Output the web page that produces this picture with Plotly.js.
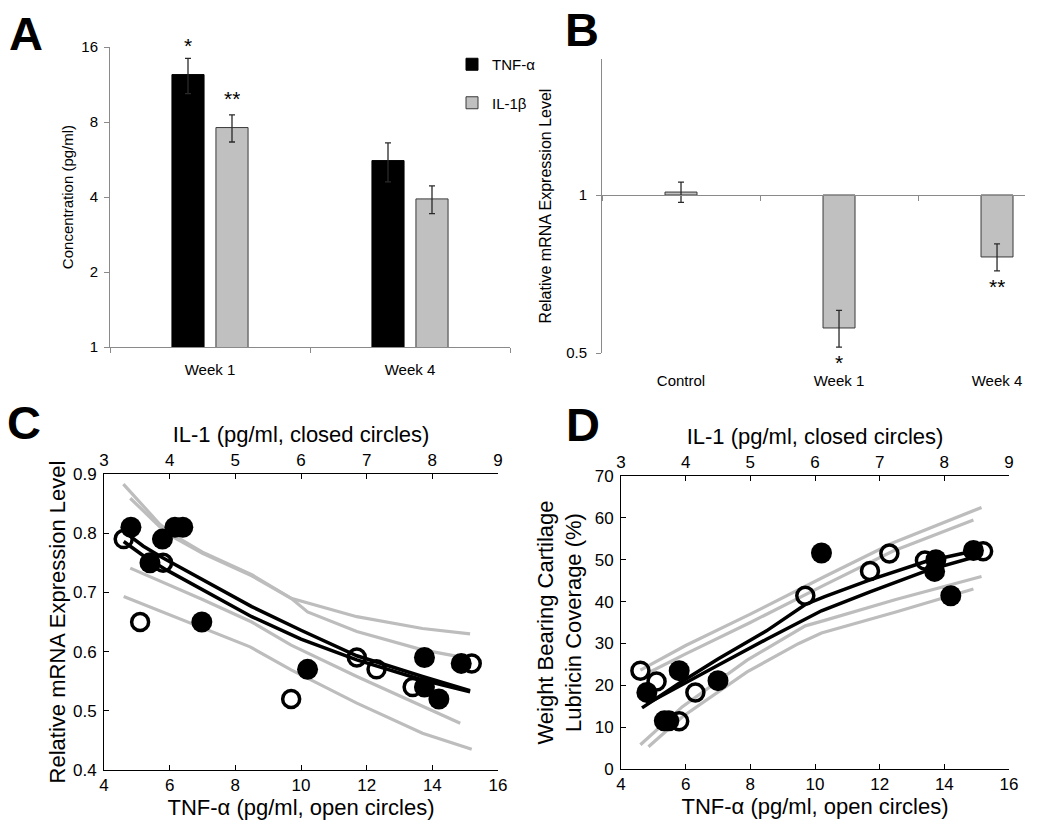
<!DOCTYPE html>
<html><head><meta charset="utf-8">
<script src="https://cdn.plot.ly/plotly-3.0.1.min.js"></script>
<style>html,body{margin:0;padding:0;background:#fff}#chart{width:1050px;height:833px}</style>
</head><body><div id="chart"></div>
<script>
// ---------- Panel A: cytokine concentrations ----------
const weeksA = ['Week 1', 'Week 4'];
const tnfConc = [12.4, 5.6];
const tnfErr = [2.0, 1.0];
const il1Conc = [7.6, 3.93];
const il1Err = [0.95, 0.5];
const concTicks = [1, 2, 4, 8, 16];
const starsTnf = ['*', ''];
const starsIl1 = ['**', ''];

// ---------- Panel B: relative mRNA expression ----------
const groupsB = ['Control', 'Week 1', 'Week 4'];
const mrnaLevel = [1.013, 0.558, 0.762];
const mrnaErr = [0.045, 0.045, 0.045];
const mrnaTicks = [0.5, 1];
const starsB = ['', '*', '**'];

// ---------- Panel C: mRNA vs cytokines ----------
const cOpenTnf = [4.6, 5.1, 5.8, 9.7, 11.7, 12.3, 13.4, 15.2];
const cOpenY = [0.79, 0.65, 0.75, 0.52, 0.59, 0.57, 0.54, 0.58];
const cClosedIl = [3.41, 3.70, 3.89, 4.08, 4.20, 4.49, 6.10, 7.88, 7.88, 8.10, 8.44];
const cClosedY = [0.81, 0.75, 0.79, 0.81, 0.81, 0.65, 0.57, 0.59, 0.54, 0.52, 0.58];
const cFitAx = [4.6, 5.2, 5.8, 7.0, 8.5, 10.0, 11.7, 13.7, 15.15];
const cFitAy = [0.803, 0.778, 0.758, 0.722, 0.676, 0.636, 0.593, 0.558, 0.534];
const cFitBx = [4.6, 5.2, 5.9, 7.0, 8.5, 10.0, 11.7, 13.7, 15.15];
const cFitBy = [0.786, 0.762, 0.738, 0.705, 0.659, 0.621, 0.586, 0.552, 0.532];
const cBand1x = [4.59, 5.2, 5.7, 6.3, 7.0, 8.5, 9.7, 11.7, 13.7, 15.15];
const cBand1y = [0.883, 0.845, 0.815, 0.791, 0.768, 0.730, 0.690, 0.659, 0.639, 0.630];
const cBand2x = [4.8, 5.9, 7.0, 8.5, 9.7, 10.2, 11.7, 13.7, 14.85];
const cBand2y = [0.859, 0.800, 0.766, 0.728, 0.690, 0.667, 0.634, 0.603, 0.591];
const cBand3x = [4.8, 6.0, 7.0, 8.5, 9.7, 11.7, 13.7, 14.85];
const cBand3y = [0.741, 0.712, 0.688, 0.650, 0.611, 0.558, 0.507, 0.479];
const cBand4x = [4.6, 6.9, 8.45, 9.7, 11.7, 13.7, 15.2];
const cBand4y = [0.693, 0.642, 0.608, 0.569, 0.513, 0.462, 0.435];

// ---------- Panel D: lubricin coverage vs cytokines ----------
const dOpenTnf = [4.6, 5.1, 5.8, 6.3, 9.7, 11.7, 12.3, 13.4, 15.2];
const dOpenY = [23.5, 20.9, 11.4, 18.3, 41.4, 47.3, 51.5, 49.8, 52.0];
const dClosedIl = [3.40, 3.67, 3.74, 3.90, 4.50, 6.10, 7.87, 7.85, 8.10, 8.45];
const dClosedY = [18.3, 11.5, 11.5, 23.5, 21.1, 51.6, 50.0, 47.2, 41.4, 52.2];
const dFitAx = [4.65, 5.8, 7.0, 8.5, 9.7, 10.3, 11.7, 13.4, 15.15];
const dFitAy = [14.6, 20.5, 26.3, 33.0, 39.3, 41.2, 45.2, 49.5, 52.5];
const dFitBx = [4.8, 6.0, 7.0, 8.5, 10.2, 11.7, 13.5, 15.1];
const dFitBy = [15.6, 20.5, 24.8, 31.0, 37.8, 42.3, 47.5, 51.0];
const dBand1x = [4.6, 6.0, 8.0, 10.3, 12.4, 15.15];
const dBand1y = [23.6, 29.5, 37.0, 46.0, 54.0, 62.5];
const dBand2x = [4.85, 6.0, 8.0, 10.3, 12.4, 14.9];
const dBand2y = [23.0, 27.5, 35.0, 44.0, 52.0, 59.5];
const dBand3x = [4.6, 5.9, 7.9, 9.7, 10.3, 12.5, 15.15];
const dBand3y = [5.8, 14.9, 26.0, 34.2, 35.5, 40.5, 46.0];
const dBand4x = [4.85, 5.9, 7.9, 9.5, 10.2, 12.5, 14.9];
const dBand4y = [5.3, 12.5, 23.2, 30.0, 32.5, 37.5, 43.0];

// ---------- helpers / styles ----------
const W = 1050, H = 833;
const FONT = 'Liberation Sans, Arial, Helvetica, sans-serif';
const GREYAX = '#8a8a8a';
const px = v => v / W;
const py = v => 1 - v / H;
const BAND = {color: '#bdbdbd', width: 3.2};
const FIT = {color: '#000', width: 3.5};

function lineTrace(x, y, line, xa, ya) {
  return {type: 'scatter', mode: 'lines', x: x, y: y, line: line, xaxis: xa, yaxis: ya,
          showlegend: false, hoverinfo: 'skip'};
}
function openTrace(x, y, xa, ya) {
  return {type: 'scatter', mode: 'markers', x: x, y: y, xaxis: xa, yaxis: ya, showlegend: false,
          marker: {symbol: 'circle-open', size: 17, color: '#000', line: {width: 3.5, color: '#000'}}};
}
function closedTrace(x, y, xa, ya) {
  return {type: 'scatter', mode: 'markers', x: x, y: y, xaxis: xa, yaxis: ya, showlegend: false,
          marker: {symbol: 'circle', size: 21, color: '#000', line: {width: 0}}};
}

const traces = [
  // Panel A
  {type: 'bar', name: 'TNF-α', x: weeksA, y: tnfConc, xaxis: 'x', yaxis: 'y',
   marker: {color: '#000', line: {color: '#000', width: 1}}, legendgroup: 'a',
   error_y: {type: 'data', array: tnfErr, color: '#2a2a2a', thickness: 1.3, width: 3}},
  {type: 'bar', name: 'IL-1β', x: weeksA, y: il1Conc, xaxis: 'x', yaxis: 'y',
   marker: {color: '#c0c0c0', line: {color: '#3a3a3a', width: 1}}, legendgroup: 'b',
   error_y: {type: 'data', array: il1Err, color: '#2a2a2a', thickness: 1.3, width: 3}},
  // Panel B
  {type: 'bar', x: groupsB, y: mrnaLevel.map(v => v - 1), base: 1, width: 0.2025,
   xaxis: 'x2', yaxis: 'y2', showlegend: false,
   marker: {color: '#c0c0c0', line: {color: '#3a3a3a', width: 1}},
   error_y: {type: 'data', array: mrnaErr, color: '#2a2a2a', thickness: 1.3, width: 3}},
  {type: 'scatter', mode: 'markers', x: groupsB, y: groupsB.map(() => 1), xaxis: 'x3', yaxis: 'y2',
   marker: {opacity: 0}, showlegend: false, hoverinfo: 'skip'},
  // Panel C
  lineTrace(cBand1x, cBand1y, BAND, 'x4', 'y3'),
  lineTrace(cBand2x, cBand2y, BAND, 'x4', 'y3'),
  lineTrace(cBand3x, cBand3y, BAND, 'x4', 'y3'),
  lineTrace(cBand4x, cBand4y, BAND, 'x4', 'y3'),
  lineTrace(cFitAx, cFitAy, FIT, 'x4', 'y3'),
  lineTrace(cFitBx, cFitBy, FIT, 'x4', 'y3'),
  openTrace(cOpenTnf, cOpenY, 'x4', 'y3'),
  closedTrace(cClosedIl, cClosedY, 'x5', 'y3'),
  // Panel D
  lineTrace(dBand1x, dBand1y, BAND, 'x6', 'y4'),
  lineTrace(dBand2x, dBand2y, BAND, 'x6', 'y4'),
  lineTrace(dBand3x, dBand3y, BAND, 'x6', 'y4'),
  lineTrace(dBand4x, dBand4y, BAND, 'x6', 'y4'),
  lineTrace(dFitAx, dFitAy, FIT, 'x6', 'y4'),
  lineTrace(dFitBx, dFitBy, FIT, 'x6', 'y4'),
  openTrace(dOpenTnf, dOpenY, 'x6', 'y4'),
  closedTrace(dClosedIl, dClosedY, 'x7', 'y4'),
];

const annotations = [];
// panel letters
[['A', 26, 33], ['B', 582, 29], ['C', 24, 423], ['D', 583, 424]].forEach(([t, x, y]) => {
  annotations.push({text: '<b>' + t + '</b>', xref: 'paper', yref: 'paper', x: px(x), y: py(y),
    xanchor: 'center', yanchor: 'middle', showarrow: false, font: {family: FONT, size: 47, color: '#000'}});
});
const STAR = {family: FONT, size: 21, color: '#000'};
// significance stars, panel A
weeksA.forEach((w, i) => {
  if (starsTnf[i]) annotations.push({text: starsTnf[i], xref: 'x', yref: 'y', x: w,
    y: Math.log10(tnfConc[i] + tnfErr[i]), xshift: -22, yshift: 13, showarrow: false,
    yanchor: 'middle', height: 16, font: STAR});
  if (starsIl1[i]) annotations.push({text: starsIl1[i], xref: 'x', yref: 'y', x: w,
    y: Math.log10(il1Conc[i] + il1Err[i]), xshift: 22, yshift: 17, showarrow: false,
    yanchor: 'middle', height: 16, font: STAR});
});
// significance stars, panel B
groupsB.forEach((g, i) => {
  if (starsB[i]) annotations.push({text: starsB[i], xref: 'x2', yref: 'y2', x: g,
    y: Math.log10(mrnaLevel[i] - mrnaErr[i]), yshift: -15, showarrow: false,
    yanchor: 'middle', height: 14, font: STAR});
});

const matAxis = {ticks: 'inside', ticklen: 5, tickwidth: 1, tickcolor: '#000', showline: true,
  linecolor: '#000', linewidth: 1, showgrid: false, zeroline: false,
  tickfont: {family: FONT, size: 17, color: '#000'}};
const xlTitle = {family: FONT, size: 22, color: '#000'};

const layout = {
  width: W, height: H, margin: {l: 0, r: 0, t: 0, b: 0},
  paper_bgcolor: '#fff', plot_bgcolor: 'rgba(0,0,0,0)',
  font: {family: FONT, color: '#000'},
  barmode: 'group', bargap: 0.56, bargroupgap: 0.27,
  showlegend: true,
  legend: {x: px(452), y: py(48), xanchor: 'left', yanchor: 'top', traceorder: 'grouped',
           tracegroupgap: 16, font: {family: FONT, size: 15, color: '#000'}, bgcolor: 'rgba(0,0,0,0)'},
  // Panel A
  xaxis: {domain: [px(110), px(510)], anchor: 'y', type: 'category', range: [-0.5, 1.5],
    tickson: 'boundaries', ticks: 'outside', ticklen: 5, tickcolor: GREYAX, showline: true,
    linecolor: GREYAX, linewidth: 1, showgrid: false, ticklabelstandoff: 9,
    tickfont: {family: FONT, size: 15, color: '#000'}},
  yaxis: {domain: [py(347), py(47)], anchor: 'x', type: 'log', range: [0, Math.log10(16)],
    tickvals: concTicks, ticktext: concTicks.map(String), ticks: 'outside', ticklen: 5,
    tickcolor: GREYAX, showline: true, linecolor: GREYAX, linewidth: 1, showgrid: false,
    zeroline: false, ticklabelstandoff: 3, tickfont: {family: FONT, size: 15, color: '#000'},
    title: {text: 'Concentration (pg/ml)', font: {family: FONT, size: 15, color: '#000'}, standoff: 4}},
  // Panel B
  xaxis2: {domain: [px(602), px(1025)], anchor: 'y2', type: 'category', range: [-0.5, 2.177],
    showline: false, ticks: '', showgrid: false, ticklabelstandoff: 17,
    tickfont: {family: FONT, size: 15, color: '#000'}},
  xaxis3: {overlaying: 'x2', anchor: 'free', position: py(195), type: 'category', range: [-0.5, 2.177],
    matches: 'x2', tickson: 'boundaries', ticks: 'outside', ticklen: 5, tickcolor: GREYAX,
    showline: true, linecolor: GREYAX, linewidth: 1, showgrid: false, showticklabels: false},
  yaxis2: {domain: [py(353), py(59)], anchor: 'x2', type: 'log',
    range: [Math.log10(0.5), Math.log10(1.816)], tickvals: mrnaTicks, ticktext: mrnaTicks.map(String),
    ticks: 'outside', ticklen: 5, tickcolor: GREYAX, showline: true, linecolor: GREYAX, linewidth: 1,
    showgrid: false, zeroline: false, ticklabelstandoff: 6, tickfont: {family: FONT, size: 15, color: '#000'},
    title: {text: 'Relative mRNA Expression Level', font: {family: FONT, size: 16, color: '#000'}, standoff: 10}},
  // Panel C
  xaxis4: Object.assign({}, matAxis, {domain: [px(104), px(498)], anchor: 'y3', range: [4, 16],
    tick0: 4, dtick: 2, ticklabelstandoff: 0,
    title: {text: 'TNF-α (pg/ml, open circles)', font: xlTitle, standoff: 2}}),
  xaxis5: Object.assign({}, matAxis, {overlaying: 'x4', side: 'top', anchor: 'y3', range: [3, 9],
    tick0: 3, dtick: 1, title: {text: 'IL-1 (pg/ml, closed circles)', font: xlTitle, standoff: 2}}),
  yaxis3: Object.assign({}, matAxis, {domain: [py(770), py(474)], anchor: 'x4', range: [0.4, 0.9],
    tick0: 0.4, dtick: 0.1, tickformat: '.1f', ticklabelstandoff: 3,
    title: {text: 'Relative mRNA Expression Level', font: xlTitle, standoff: 1}}),
  // Panel D
  xaxis6: Object.assign({}, matAxis, {domain: [px(621), px(1009)], anchor: 'y4', range: [4, 16],
    tick0: 4, dtick: 2, ticklabelstandoff: 0,
    title: {text: 'TNF-α (pg/ml, open circles)', font: xlTitle, standoff: 2}}),
  xaxis7: Object.assign({}, matAxis, {overlaying: 'x6', side: 'top', anchor: 'y4', range: [3, 9],
    tick0: 3, dtick: 1, title: {text: 'IL-1 (pg/ml, closed circles)', font: xlTitle, standoff: 2}}),
  yaxis4: Object.assign({}, matAxis, {domain: [py(769), py(476)], anchor: 'x6', range: [0, 70],
    tick0: 0, dtick: 10, ticklabelstandoff: 3,
    title: {text: 'Weight Bearing Cartilage<br>Lubricin Coverage (%)', font: xlTitle, standoff: 6}}),
  annotations: annotations
};

Plotly.newPlot('chart', traces, layout, {displayModeBar: false, staticPlot: true});
</script>
</body></html>
